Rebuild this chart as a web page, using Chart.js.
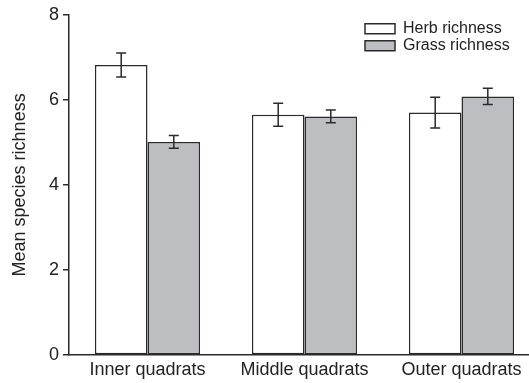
<!DOCTYPE html>
<html>
<head>
<meta charset="utf-8">
<script src="https://cdn.jsdelivr.net/npm/chart.js@4/dist/chart.umd.min.js"></script>
<style>
  html, body { margin: 0; padding: 0; overflow: hidden; background: #fff; }
  canvas { display: block; }
</style>
</head>
<body>
<canvas id="c" width="541" height="383"></canvas>
<script>
// Mean species richness per quadrat zone, with standard errors
const categories = ['Inner quadrats', 'Middle quadrats', 'Outer quadrats'];
const herbMean = [6.82, 5.65, 5.70];
const herbErr = [0.28, 0.27, 0.36];
const grassMean = [5.01, 5.61, 6.08];
const grassErr = [0.15, 0.15, 0.19];
const yTicks = [0, 2, 4, 6, 8];

const INK = '#2b2b2b';
Chart.defaults.font.family = "'Liberation Sans', Arial, Helvetica, sans-serif";
Chart.defaults.color = '#222';

// Draws symmetric error bars on top of each bar
const errorBars = {
  id: 'errorBars',
  afterDatasetsDraw(chart) {
    const ctx = chart.ctx;
    const y = chart.scales.y;
    ctx.save();
    ctx.strokeStyle = INK;
    ctx.lineWidth = 1.5;
    chart.data.datasets.forEach((ds, di) => {
      const meta = chart.getDatasetMeta(di);
      meta.data.forEach((bar, i) => {
        const v = ds.data[i], e = ds.errors[i];
        const yt = y.getPixelForValue(v + e);
        const yb = y.getPixelForValue(v - e);
        const x = bar.x, cap = 5;
        ctx.beginPath();
        ctx.moveTo(x, yt); ctx.lineTo(x, yb);
        ctx.moveTo(x - cap, yt); ctx.lineTo(x + cap, yt);
        ctx.moveTo(x - cap, yb); ctx.lineTo(x + cap, yb);
        ctx.stroke();
      });
    });
    ctx.restore();
  }
};

// Places the legend in the upper right of the plot
const legendPlacement = {
  id: 'legendPlacement',
  afterLayout(chart) {
    const lg = chart.legend;
    if (!lg) return;
    const w = lg.width, h = lg.height;
    lg.left = 364; lg.top = 19.7;
    lg.right = lg.left + w; lg.bottom = lg.top + h;
  }
};

new Chart(document.getElementById('c'), {
  type: 'bar',
  data: {
    labels: categories,
    datasets: [
      {
        label: 'Herb richness',
        data: herbMean,
        errors: herbErr,
        backgroundColor: '#ffffff',
        borderColor: INK,
        borderWidth: 1.5,
        borderSkipped: false
      },
      {
        label: 'Grass richness',
        data: grassMean,
        errors: grassErr,
        backgroundColor: '#bdbec2',
        borderColor: INK,
        borderWidth: 1.5,
        borderSkipped: false
      }
    ]
  },
  options: {
    responsive: false,
    devicePixelRatio: 1,
    animation: false,
    categoryPercentage: 0.67,
    barPercentage: 1.0,
    layout: { padding: { top: 14, left: 0, right: 1, bottom: 0 } },
    plugins: {
      tooltip: { enabled: false },
      legend: {
        position: 'chartArea',
        align: 'start',
        labels: {
          boxWidth: 30,
          boxHeight: 10,
          padding: 1,
          color: '#222',
          font: { size: 16 }
        }
      }
    },
    scales: {
      x: {
        grid: { display: false, drawTicks: false, tickLength: 0 },
        border: { display: true, color: INK, width: 1.5 },
        ticks: { padding: 4, color: '#222', font: { size: 18 } },
        afterFit(scale) { scale.height = 28; }
      },
      y: {
        min: 0,
        max: 8,
        afterBuildTicks(scale) { scale.ticks = yTicks.map(v => ({ value: v })); },
        grid: { drawOnChartArea: false, drawTicks: true, tickLength: 6, color: INK, lineWidth: 1.5 },
        border: { display: true, color: INK, width: 1.5 },
        ticks: { padding: 4, color: '#222', font: { size: 18 } },
        title: {
          display: true,
          text: 'Mean species richness',
          color: '#222',
          font: { size: 18 },
          padding: { top: 9.5, bottom: 0 }
        },
        afterFit(scale) { scale.width = 69; }
      }
    }
  },
  plugins: [errorBars, legendPlacement]
});
</script>
</body>
</html>
